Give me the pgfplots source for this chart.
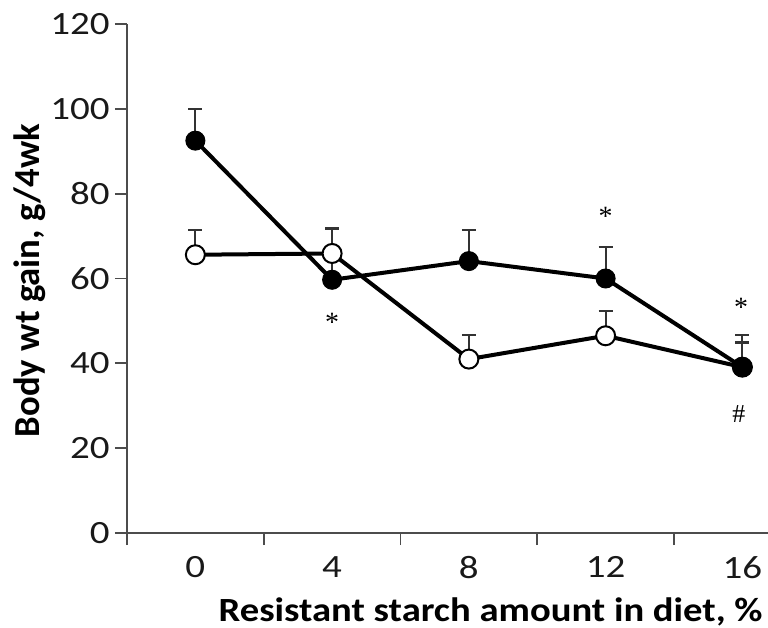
\documentclass[border=0pt]{standalone}
\usepackage{fontspec}
\setmainfont{Carlito}
\newfontfamily\wide{Carlito}[FakeStretch=1.14]
\newfontfamily\wider{Carlito}[FakeStretch=1.2]
\newfontfamily\serif{Liberation Serif}
\usepackage{pgfplots}
\pgfplotsset{compat=1.18}
\begin{document}
\begin{tikzpicture}
\useasboundingbox (-63.5bp,-47.5bp) rectangle (320.5bp,266.5bp);
\begin{axis}[
    at={(0,0)}, anchor=south west,
    scale only axis,
    width=320.5bp, height=254.5bp,
    xmin=-2, xmax=16.75,
    ymin=0, ymax=120,
    axis lines=left,
    axis line style={-, line width=0.9bp, black!70},
    tick style={line width=0.9bp, black!70},
    tick align=outside,
    major tick length=6bp,
    xtick={-2,2,6,10,14},
    xticklabels={},
    extra x ticks={0,4,8,12,16},
    extra x tick labels={0,4,8,12,16},
    extra x tick style={major tick length=0pt},
    ytick={0,20,40,60,80,100,120},
    /pgf/number format/assume math mode=true,
    ticklabel style={font=\wider\fontsize{16.3}{16.3}\selectfont, text=black!90},
    xticklabel style={inner sep=0pt, anchor=north, yshift=-11.5bp},
    yticklabel style={inner sep=2.5bp},
    xlabel={Resistant starch amount in diet, \%},
    ylabel={Body wt gain, g/4wk},
    xlabel style={font=\wide\bfseries\fontsize{17}{17}\selectfont, inner sep=0pt,
        at={(axis description cs:0.992,0)}, anchor=north east, yshift=-32bp},
    ylabel style={font=\bfseries\fontsize{18.4}{18.4}\selectfont, inner sep=0pt,
        at={(axis description cs:-0.151,0.496)}, anchor=center},
    clip=false,
]
% filled circles
\addplot[line width=2bp, black, mark=*, mark size=4.75bp,
    mark options={solid, fill=black, line width=0.5bp},
    error bars/.cd, y dir=plus, y explicit,
    error bar style={line width=1.1bp, black!80},
    error mark options={line width=1.1bp, black!80, mark size=3.5bp, rotate=90}]
coordinates {
    (0,92.5) +- (0,7.5)
    (4,59.7) +- (0,5.5)
    (8,64.1) +- (0,7.3)
    (12,60.0) +- (0,7.5)
    (16,39.1) +- (0,7.6)
};
% open circles
\addplot[line width=2bp, black, mark=*, mark size=4.75bp,
    mark options={solid, fill=white, draw=black, line width=1bp},
    error bars/.cd, y dir=plus, y explicit,
    error bar style={line width=1.1bp, black!80},
    error mark options={line width=1.1bp, black!80, mark size=3.5bp, rotate=90}]
coordinates {
    (0,65.6) +- (0,5.8)
    (4,65.9) +- (0,5.9)
    (8,41.0) +- (0,5.7)
    (12,46.5) +- (0,5.9)
    (16,39.1) +- (0,5.8)
};
% filled mark on top at 16
\addplot[only marks, black, mark=*, mark size=4.75bp,
    mark options={fill=black, line width=0.5bp}] coordinates {(16,39.1)};

\node[font=\serif\fontsize{14}{14}\selectfont] at (axis cs:4,49.6) {*};
\node[font=\serif\fontsize{14}{14}\selectfont] at (axis cs:12,74.7) {*};
\node[font=\serif\fontsize{14}{14}\selectfont] at (axis cs:15.96,53.1) {*};
\node[font=\serif\fontsize{13}{13}\selectfont] at (axis cs:15.9,28.1) {\#};
\end{axis}
\end{tikzpicture}
\end{document}
